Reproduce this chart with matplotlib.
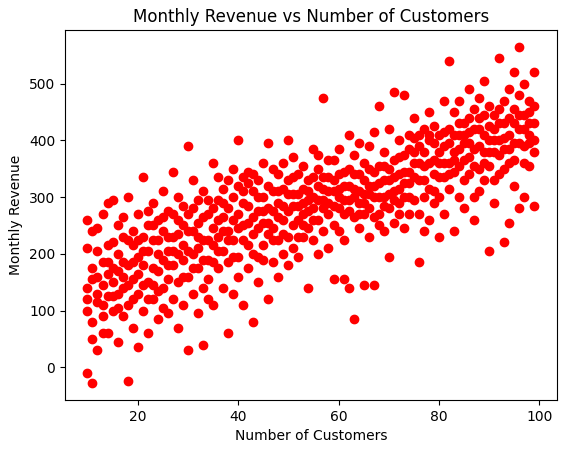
import numpy as np
import matplotlib
matplotlib.use("Agg")
import matplotlib.pyplot as plt

customers = [10,11,12,13,14,15,16,17,18,19,20,21,22,23,24,25,26,27,28,29,
             30,31,32,33,34,35,36,37,38,39,40,41,42,43,44,45,46,47,48,49,
             50,51,52,53,54,55,56,57,58,59,60,61,62,63,64,65,66,67,68,69,
             70,71,72,73,74,75,76,77,78,79,80,81,82,83,84,85,86,87,88,89,
             90,91,92,93,94,95,96,97,98,99]

revenue = [
 [260,140,-10,100,120,210],[175,240,50,-28,155,80],[130,205,30,160,115,245],[270,90,145,110,185,60],[185,290,60,125,215,165],
 [150,220,100,295,175,125],[200,45,170,130,250,105],[265,140,230,90,185,160],[110,300,180,-25,145,225],[155,215,70,240,120,185],
 [195,130,270,35,165,225],[335,180,100,230,145,205],[250,60,150,205,120,275],[225,120,290,175,145,250],[170,260,85,200,225,135],
 [310,140,240,190,265,105],[205,95,275,155,230,180],[345,180,230,120,270,205],[260,300,150,70,200,235],[215,110,285,190,250,160],
 [390,30,240,160,205,270],[280,200,130,330,240,175],[255,175,95,230,210,295],[310,40,225,140,265,190],[270,190,155,295,225,120],
 [215,110,360,245,280,185],[295,175,230,335,260,205],[265,140,315,205,290,240],[185,60,280,240,225,330],[350,225,130,300,260,195],
 [400,270,195,160,320,245],[335,250,110,290,225,310],[285,215,345,175,255,325],[80,310,235,265,200,340],[330,195,275,150,300,245],
 [255,360,215,300,275,190],[395,120,280,235,320,255],[245,310,185,350,275,225],[290,340,225,160,265,310],[260,200,315,360,285,235],
 [400,275,230,180,330,305],[305,370,250,210,285,335],[340,285,195,260,305,230],[230,315,355,270,290,250],[140,295,245,330,275,310],
 [280,385,225,300,335,260],[320,260,350,200,295,375],[475,295,240,335,280,315],[270,310,210,365,290,335],[155,330,285,250,310,365],
 [385,300,240,340,280,315],[155,270,320,225,295,345],[410,295,350,140,275,320],[85,315,265,375,300,340],[340,290,245,395,310,270],
 [145,305,360,270,330,290],[320,390,280,230,305,350],[145,345,300,415,320,265],[460,270,325,250,300,355],[380,300,355,240,330,285],
 [330,420,280,195,350,305],[485,310,365,255,335,295],[340,400,290,270,315,370],[480,325,375,245,345,300],[385,300,345,270,325,410],
 [440,360,295,405,335,380],[185,330,390,270,360,410],[240,420,355,300,380,330],[400,315,450,260,360,410],[365,425,290,340,395,310],
 [230,410,360,300,380,335],[470,335,390,270,415,360],[540,420,315,360,395,340],[240,380,450,345,410,365],[410,300,355,470,385,430],
 [395,330,430,280,365,410],[490,370,340,415,395,440],[300,455,385,260,420,355],[350,420,475,310,390,440],[505,380,330,445,410,360],
 [205,400,460,355,425,380],[330,420,380,290,445,400],[545,455,400,340,430,375],[220,385,470,430,405,350],[255,410,360,490,440,385],
 [455,320,395,520,430,365],[565,480,420,280,445,395],[300,445,390,500,420,360],[470,410,355,450,395,430],[520,285,430,380,460,400],
]

x = np.repeat(customers, 6)
y = np.array(revenue).ravel()

fig, ax = plt.subplots(figsize=(5.71, 4.55), dpi=100)
fig.subplots_adjust(left=0.114, right=0.975, top=0.934, bottom=0.121)
ax.scatter(x, y, color="red")
ax.set_title("Monthly Revenue vs Number of Customers")
ax.set_xlabel("Number of Customers")
ax.set_ylabel("Monthly Revenue")
fig.savefig("out.png", dpi=100)
